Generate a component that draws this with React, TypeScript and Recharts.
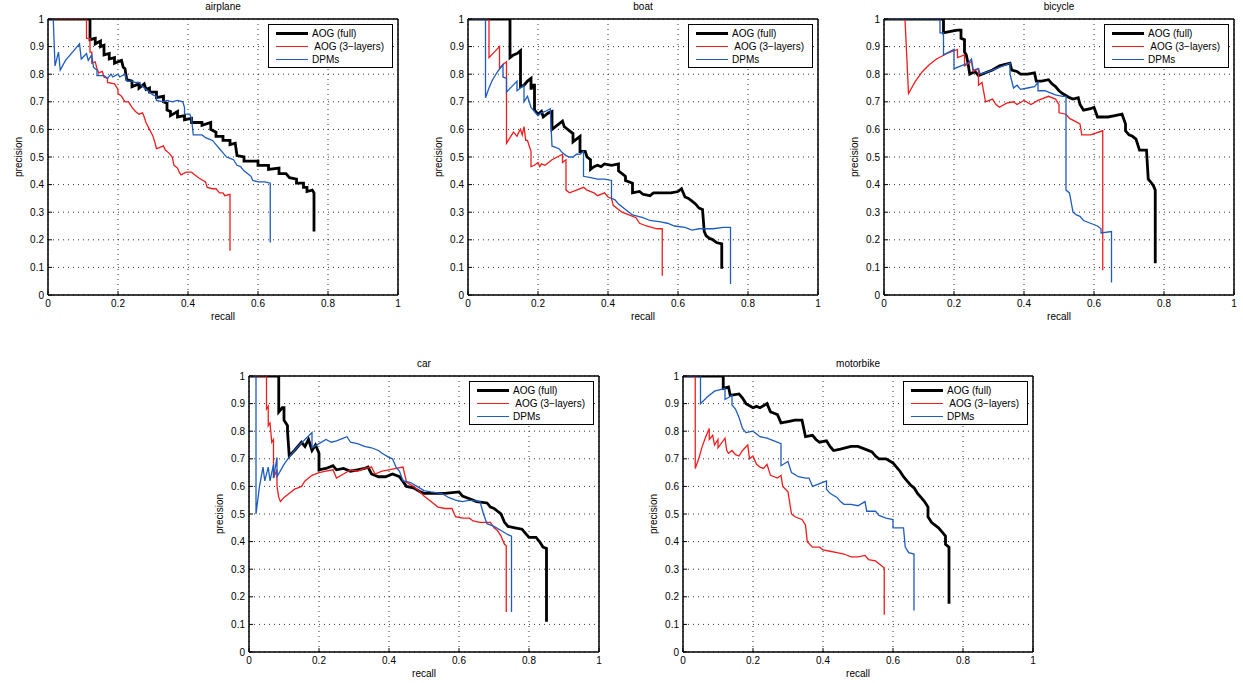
import { LineChart, Line, XAxis, YAxis, CartesianGrid, ReferenceArea } from "recharts";

// [recall, precision] pairs
const airplaneFull = [[0,1],[0.12,1],[0.12,0.925],[0.135,0.93],[0.135,0.91],[0.15,0.92],[0.15,0.9],[0.16,0.905],[0.16,0.87],[0.175,0.875],[0.175,0.855],[0.19,0.86],[0.19,0.84],[0.21,0.85],[0.215,0.825],[0.22,0.82],[0.225,0.78],[0.24,0.775],[0.24,0.755],[0.26,0.765],[0.26,0.75],[0.275,0.765],[0.28,0.745],[0.29,0.75],[0.29,0.735],[0.31,0.735],[0.31,0.715],[0.33,0.72],[0.33,0.7],[0.34,0.695],[0.34,0.67],[0.35,0.665],[0.35,0.65],[0.37,0.665],[0.37,0.645],[0.39,0.65],[0.39,0.635],[0.41,0.64],[0.41,0.625],[0.44,0.625],[0.44,0.615],[0.465,0.625],[0.465,0.6],[0.48,0.59],[0.48,0.575],[0.5,0.575],[0.5,0.56],[0.52,0.56],[0.52,0.545],[0.535,0.55],[0.54,0.505],[0.56,0.5],[0.56,0.485],[0.6,0.485],[0.6,0.47],[0.63,0.47],[0.63,0.455],[0.66,0.46],[0.66,0.44],[0.68,0.44],[0.69,0.425],[0.71,0.42],[0.71,0.405],[0.73,0.405],[0.73,0.39],[0.74,0.39],[0.74,0.375],[0.755,0.38],[0.76,0.37],[0.76,0.23]];
const airplane3 = [[0,1],[0.11,1],[0.11,0.93],[0.12,0.93],[0.12,0.88],[0.125,0.88],[0.125,0.84],[0.135,0.845],[0.14,0.82],[0.145,0.805],[0.155,0.81],[0.16,0.79],[0.17,0.785],[0.17,0.77],[0.19,0.765],[0.2,0.745],[0.2,0.73],[0.21,0.72],[0.22,0.7],[0.23,0.7],[0.24,0.68],[0.25,0.665],[0.26,0.655],[0.27,0.66],[0.275,0.645],[0.28,0.625],[0.29,0.6],[0.3,0.575],[0.305,0.555],[0.31,0.53],[0.32,0.535],[0.33,0.54],[0.335,0.525],[0.345,0.515],[0.355,0.5],[0.36,0.47],[0.37,0.46],[0.375,0.445],[0.38,0.435],[0.395,0.445],[0.41,0.445],[0.42,0.435],[0.43,0.425],[0.45,0.41],[0.455,0.39],[0.47,0.385],[0.48,0.385],[0.49,0.37],[0.5,0.37],[0.505,0.36],[0.52,0.365],[0.52,0.16]];
const airplaneDpm = [[0,1],[0.015,1],[0.02,0.83],[0.03,0.88],[0.035,0.815],[0.05,0.85],[0.07,0.88],[0.09,0.91],[0.095,0.855],[0.11,0.875],[0.115,0.85],[0.125,0.87],[0.13,0.825],[0.14,0.815],[0.14,0.795],[0.16,0.795],[0.17,0.785],[0.18,0.8],[0.185,0.79],[0.2,0.8],[0.205,0.79],[0.22,0.8],[0.225,0.775],[0.24,0.775],[0.25,0.77],[0.26,0.77],[0.27,0.755],[0.28,0.745],[0.29,0.735],[0.3,0.725],[0.31,0.72],[0.31,0.705],[0.33,0.7],[0.34,0.705],[0.355,0.7],[0.37,0.705],[0.385,0.7],[0.39,0.68],[0.39,0.655],[0.405,0.655],[0.41,0.64],[0.415,0.58],[0.44,0.58],[0.45,0.57],[0.46,0.565],[0.47,0.56],[0.48,0.545],[0.49,0.53],[0.5,0.515],[0.51,0.5],[0.52,0.495],[0.53,0.49],[0.54,0.47],[0.55,0.465],[0.56,0.45],[0.57,0.44],[0.58,0.43],[0.585,0.415],[0.6,0.41],[0.62,0.41],[0.635,0.405],[0.635,0.19]];

const boatFull = [[0,1],[0.12,1],[0.12,0.86],[0.13,0.87],[0.14,0.875],[0.15,0.885],[0.15,0.755],[0.16,0.76],[0.17,0.775],[0.18,0.785],[0.18,0.745],[0.185,0.76],[0.19,0.76],[0.19,0.67],[0.2,0.655],[0.21,0.665],[0.215,0.645],[0.225,0.655],[0.23,0.66],[0.24,0.665],[0.24,0.6],[0.25,0.61],[0.26,0.62],[0.27,0.63],[0.275,0.61],[0.28,0.605],[0.29,0.595],[0.3,0.585],[0.3,0.555],[0.31,0.565],[0.32,0.575],[0.32,0.52],[0.335,0.52],[0.34,0.5],[0.35,0.49],[0.35,0.455],[0.36,0.465],[0.37,0.47],[0.38,0.465],[0.39,0.475],[0.41,0.47],[0.43,0.475],[0.43,0.45],[0.44,0.44],[0.45,0.43],[0.45,0.415],[0.47,0.405],[0.47,0.37],[0.49,0.375],[0.5,0.365],[0.52,0.36],[0.53,0.37],[0.55,0.37],[0.58,0.37],[0.6,0.375],[0.61,0.385],[0.62,0.355],[0.63,0.35],[0.64,0.34],[0.65,0.33],[0.66,0.315],[0.67,0.31],[0.675,0.23],[0.68,0.215],[0.69,0.205],[0.7,0.2],[0.71,0.19],[0.725,0.185],[0.725,0.095]];
const boat3 = [[0,1],[0.06,1],[0.06,0.86],[0.075,0.88],[0.09,0.9],[0.09,0.82],[0.1,0.835],[0.11,0.845],[0.11,0.55],[0.12,0.57],[0.13,0.59],[0.14,0.575],[0.145,0.59],[0.15,0.6],[0.155,0.58],[0.16,0.61],[0.165,0.56],[0.17,0.56],[0.175,0.54],[0.18,0.52],[0.18,0.465],[0.19,0.47],[0.2,0.48],[0.205,0.465],[0.21,0.475],[0.22,0.47],[0.24,0.49],[0.27,0.51],[0.27,0.48],[0.28,0.49],[0.28,0.38],[0.29,0.37],[0.31,0.38],[0.33,0.39],[0.34,0.38],[0.36,0.37],[0.37,0.36],[0.39,0.37],[0.4,0.355],[0.41,0.35],[0.415,0.325],[0.43,0.31],[0.44,0.3],[0.46,0.29],[0.48,0.28],[0.49,0.26],[0.51,0.25],[0.54,0.24],[0.555,0.24],[0.555,0.07]];
const boatDpm = [[0,1],[0.05,1],[0.05,0.715],[0.06,0.75],[0.07,0.78],[0.085,0.81],[0.1,0.835],[0.1,0.79],[0.11,0.785],[0.11,0.735],[0.125,0.755],[0.14,0.775],[0.14,0.74],[0.15,0.75],[0.16,0.76],[0.16,0.7],[0.17,0.72],[0.175,0.7],[0.18,0.68],[0.19,0.665],[0.2,0.65],[0.21,0.66],[0.22,0.665],[0.235,0.675],[0.24,0.54],[0.25,0.535],[0.26,0.53],[0.27,0.515],[0.28,0.505],[0.29,0.5],[0.3,0.5],[0.31,0.51],[0.32,0.51],[0.33,0.52],[0.33,0.43],[0.35,0.425],[0.37,0.42],[0.39,0.42],[0.41,0.415],[0.41,0.35],[0.42,0.345],[0.43,0.33],[0.45,0.31],[0.47,0.29],[0.5,0.28],[0.52,0.27],[0.55,0.265],[0.57,0.26],[0.59,0.25],[0.62,0.245],[0.64,0.235],[0.66,0.24],[0.7,0.24],[0.73,0.245],[0.75,0.245],[0.75,0.04]];

const bicycleFull = [[0,1],[0.17,1],[0.17,0.95],[0.19,0.955],[0.21,0.96],[0.22,0.96],[0.22,0.93],[0.23,0.925],[0.23,0.88],[0.235,0.87],[0.24,0.84],[0.245,0.8],[0.26,0.81],[0.27,0.795],[0.29,0.805],[0.31,0.815],[0.33,0.83],[0.36,0.84],[0.365,0.815],[0.38,0.81],[0.39,0.8],[0.41,0.8],[0.43,0.805],[0.435,0.775],[0.45,0.775],[0.47,0.78],[0.48,0.765],[0.49,0.755],[0.5,0.74],[0.51,0.73],[0.53,0.715],[0.54,0.71],[0.555,0.715],[0.56,0.69],[0.57,0.67],[0.59,0.675],[0.6,0.68],[0.61,0.645],[0.64,0.645],[0.66,0.65],[0.68,0.655],[0.69,0.62],[0.69,0.595],[0.7,0.58],[0.71,0.575],[0.72,0.565],[0.73,0.525],[0.75,0.525],[0.755,0.42],[0.765,0.405],[0.77,0.395],[0.775,0.38],[0.775,0.115]];
const bicycle3 = [[0,1],[0.06,1],[0.07,0.73],[0.09,0.775],[0.11,0.81],[0.13,0.835],[0.15,0.855],[0.18,0.875],[0.21,0.89],[0.21,0.86],[0.23,0.87],[0.23,0.83],[0.25,0.845],[0.255,0.81],[0.27,0.82],[0.27,0.76],[0.28,0.77],[0.29,0.7],[0.31,0.71],[0.32,0.69],[0.33,0.68],[0.35,0.695],[0.37,0.7],[0.38,0.69],[0.4,0.705],[0.42,0.69],[0.44,0.705],[0.47,0.72],[0.49,0.71],[0.5,0.69],[0.5,0.66],[0.52,0.655],[0.53,0.64],[0.545,0.63],[0.56,0.62],[0.565,0.58],[0.59,0.58],[0.625,0.595],[0.625,0.57],[0.625,0.09]];
const bicycleDpm = [[0,1],[0.16,1],[0.16,0.95],[0.17,0.95],[0.17,0.87],[0.185,0.88],[0.2,0.89],[0.2,0.82],[0.22,0.83],[0.24,0.84],[0.25,0.855],[0.255,0.815],[0.27,0.82],[0.275,0.8],[0.3,0.81],[0.33,0.825],[0.36,0.84],[0.36,0.8],[0.37,0.75],[0.38,0.76],[0.39,0.745],[0.41,0.75],[0.43,0.755],[0.44,0.77],[0.44,0.74],[0.46,0.74],[0.47,0.735],[0.49,0.725],[0.51,0.72],[0.52,0.72],[0.52,0.38],[0.53,0.37],[0.54,0.3],[0.55,0.29],[0.56,0.285],[0.57,0.27],[0.59,0.26],[0.61,0.25],[0.62,0.24],[0.62,0.225],[0.65,0.23],[0.65,0.045]];

const carFull = [[0,1],[0.085,1],[0.085,0.87],[0.095,0.885],[0.1,0.885],[0.1,0.84],[0.11,0.82],[0.11,0.8],[0.115,0.71],[0.13,0.73],[0.15,0.76],[0.16,0.745],[0.17,0.77],[0.18,0.73],[0.19,0.75],[0.2,0.72],[0.2,0.66],[0.22,0.665],[0.24,0.675],[0.25,0.66],[0.27,0.665],[0.29,0.655],[0.31,0.66],[0.33,0.665],[0.34,0.67],[0.35,0.645],[0.37,0.635],[0.39,0.635],[0.41,0.645],[0.43,0.635],[0.45,0.6],[0.47,0.595],[0.49,0.58],[0.5,0.575],[0.53,0.575],[0.56,0.575],[0.6,0.58],[0.61,0.565],[0.63,0.555],[0.65,0.545],[0.68,0.54],[0.69,0.525],[0.7,0.52],[0.72,0.5],[0.73,0.47],[0.74,0.455],[0.76,0.45],[0.78,0.445],[0.79,0.43],[0.8,0.415],[0.82,0.415],[0.83,0.4],[0.84,0.38],[0.85,0.375],[0.85,0.11]];
const car3 = [[0,1],[0.05,1],[0.05,0.88],[0.055,0.89],[0.055,0.82],[0.06,0.83],[0.065,0.76],[0.07,0.77],[0.07,0.63],[0.08,0.66],[0.08,0.6],[0.085,0.56],[0.09,0.545],[0.1,0.56],[0.11,0.57],[0.12,0.58],[0.13,0.59],[0.14,0.595],[0.15,0.6],[0.16,0.62],[0.18,0.64],[0.2,0.65],[0.22,0.655],[0.24,0.66],[0.25,0.63],[0.27,0.645],[0.29,0.66],[0.31,0.655],[0.33,0.665],[0.35,0.67],[0.36,0.645],[0.38,0.655],[0.4,0.66],[0.42,0.665],[0.44,0.67],[0.45,0.615],[0.47,0.6],[0.48,0.59],[0.5,0.565],[0.52,0.545],[0.54,0.525],[0.56,0.52],[0.58,0.52],[0.59,0.49],[0.61,0.485],[0.63,0.485],[0.64,0.475],[0.66,0.47],[0.69,0.47],[0.7,0.45],[0.71,0.44],[0.72,0.42],[0.73,0.39],[0.735,0.385],[0.735,0.145]];
const carDpm = [[0,1],[0.02,1],[0.02,0.5],[0.03,0.6],[0.04,0.67],[0.045,0.62],[0.055,0.67],[0.06,0.62],[0.07,0.68],[0.07,0.63],[0.08,0.705],[0.08,0.635],[0.1,0.68],[0.12,0.715],[0.14,0.745],[0.16,0.77],[0.18,0.795],[0.18,0.74],[0.2,0.755],[0.22,0.77],[0.235,0.76],[0.25,0.765],[0.27,0.775],[0.28,0.78],[0.29,0.76],[0.31,0.755],[0.33,0.745],[0.35,0.74],[0.37,0.73],[0.38,0.72],[0.4,0.705],[0.41,0.7],[0.42,0.67],[0.43,0.655],[0.44,0.62],[0.46,0.615],[0.48,0.6],[0.5,0.585],[0.52,0.58],[0.55,0.575],[0.57,0.56],[0.59,0.55],[0.61,0.545],[0.63,0.55],[0.66,0.545],[0.67,0.5],[0.68,0.465],[0.7,0.455],[0.72,0.44],[0.74,0.425],[0.75,0.42],[0.75,0.145]];

const motorbikeFull = [[0,1],[0.115,1],[0.115,0.955],[0.13,0.96],[0.135,0.93],[0.16,0.935],[0.17,0.92],[0.18,0.9],[0.2,0.885],[0.21,0.89],[0.22,0.885],[0.24,0.9],[0.25,0.87],[0.26,0.865],[0.27,0.86],[0.28,0.83],[0.3,0.835],[0.32,0.84],[0.34,0.84],[0.35,0.78],[0.37,0.785],[0.38,0.77],[0.39,0.76],[0.41,0.765],[0.42,0.745],[0.43,0.73],[0.45,0.735],[0.48,0.745],[0.5,0.745],[0.52,0.735],[0.54,0.725],[0.55,0.71],[0.56,0.7],[0.58,0.7],[0.6,0.685],[0.61,0.67],[0.62,0.655],[0.63,0.635],[0.64,0.62],[0.65,0.605],[0.66,0.595],[0.67,0.575],[0.68,0.56],[0.69,0.545],[0.7,0.525],[0.7,0.49],[0.71,0.47],[0.72,0.46],[0.73,0.45],[0.74,0.435],[0.75,0.42],[0.75,0.39],[0.76,0.38],[0.76,0.175]];
const motorbike3 = [[0,1],[0.035,1],[0.035,0.665],[0.045,0.7],[0.055,0.745],[0.065,0.78],[0.075,0.81],[0.075,0.77],[0.085,0.785],[0.09,0.75],[0.1,0.77],[0.1,0.74],[0.12,0.775],[0.125,0.73],[0.13,0.72],[0.14,0.73],[0.15,0.715],[0.16,0.71],[0.17,0.73],[0.185,0.75],[0.19,0.7],[0.2,0.71],[0.21,0.68],[0.22,0.67],[0.23,0.665],[0.24,0.68],[0.25,0.64],[0.27,0.63],[0.28,0.64],[0.285,0.6],[0.3,0.58],[0.31,0.5],[0.32,0.49],[0.34,0.48],[0.35,0.46],[0.355,0.4],[0.37,0.38],[0.39,0.38],[0.4,0.37],[0.42,0.365],[0.44,0.36],[0.46,0.355],[0.48,0.345],[0.5,0.345],[0.52,0.35],[0.53,0.335],[0.55,0.33],[0.56,0.32],[0.57,0.31],[0.575,0.305],[0.575,0.135]];
const motorbikeDpm = [[0,1],[0.05,1],[0.05,0.9],[0.07,0.925],[0.09,0.945],[0.12,0.955],[0.12,0.915],[0.14,0.93],[0.14,0.895],[0.15,0.88],[0.16,0.85],[0.17,0.81],[0.18,0.795],[0.2,0.8],[0.22,0.78],[0.24,0.775],[0.26,0.765],[0.28,0.755],[0.28,0.675],[0.3,0.69],[0.31,0.65],[0.33,0.635],[0.35,0.63],[0.36,0.63],[0.37,0.6],[0.39,0.61],[0.41,0.62],[0.41,0.59],[0.42,0.575],[0.44,0.56],[0.45,0.545],[0.46,0.535],[0.48,0.535],[0.5,0.53],[0.52,0.545],[0.525,0.51],[0.55,0.51],[0.56,0.495],[0.58,0.485],[0.6,0.48],[0.6,0.45],[0.63,0.45],[0.635,0.38],[0.645,0.36],[0.66,0.355],[0.66,0.15]];

const seriesNames = ["AOG (full)", " AOG (3\u2212layers)", "DPMs"];
const seriesColors = ["#000000", "#f21c1c", "#1f5cbf"];
const seriesWidths = [2.8, 1.3, 1.3];
const xTicks = [0, 0.2, 0.4, 0.6, 0.8, 1];
const yTicks = [0, 0.1, 0.2, 0.3, 0.4, 0.5, 0.6, 0.7, 0.8, 0.9, 1];

const FONT = '"Liberation Sans", Arial, Helvetica, sans-serif';
const tickStyle = { fontSize: 10, fill: "#000", fontFamily: FONT };

type Pair = number[];

function toPoints(pairs: Pair[]) {
  return pairs.map(([r, p]) => ({ r, p }));
}

interface PanelProps {
  title: string;
  left: number;
  top: number;
  curves: Pair[][];
}

function Panel({ title, left, top, curves }: PanelProps) {
  const textBase = {
    position: "absolute" as const,
    fontFamily: FONT,
    fontSize: 10,
    lineHeight: "12px",
    color: "#000",
    textAlign: "center" as const,
  };
  return (
    <div style={{ position: "absolute", left, top, width: 420, height: 330 }}>
      <LineChart width={420} height={330} margin={{ top: 18, right: 21, bottom: 15, left: 18 }}>
        <CartesianGrid stroke="#333" strokeDasharray="1 4" strokeWidth={1} />
        <XAxis
          dataKey="r"
          type="number"
          domain={[0, 1]}
          ticks={xTicks}
          height={20}
          tick={tickStyle}
          tickSize={-4}
          tickMargin={9}
          stroke="#000"
          tickFormatter={(v) => String(v)}
          allowDataOverflow
        />
        {/* matlab-style box: inward ticks on the top and right edges too */}
        <XAxis
          xAxisId="top"
          orientation="top"
          type="number"
          domain={[0, 1]}
          ticks={xTicks}
          height={1}
          tick={false}
          tickSize={-4}
          stroke="#000"
        />
        <YAxis
          type="number"
          domain={[0, 1]}
          ticks={yTicks}
          width={30}
          tick={tickStyle}
          tickSize={-4}
          tickMargin={8}
          stroke="#000"
          tickFormatter={(v) => String(v)}
          allowDataOverflow
        />
        <YAxis
          yAxisId="right"
          orientation="right"
          type="number"
          domain={[0, 1]}
          ticks={yTicks}
          width={1}
          tick={false}
          tickSize={-4}
          stroke="#000"
        />
        <ReferenceArea x1={0} x2={1} y1={0} y2={1} fill="none" stroke="#000" strokeWidth={1} ifOverflow="visible" />
        {curves.map((c, i) => (
          <Line
            key={i}
            data={toPoints(c)}
            dataKey="p"
            type="linear"
            stroke={seriesColors[i]}
            strokeWidth={seriesWidths[i]}
            dot={false}
            activeDot={false}
            isAnimationActive={false}
            strokeLinejoin="miter"
          />
        ))}
      </LineChart>

      <div style={{ ...textBase, left: 48, top: 1, width: 350 }}>{title}</div>
      <div style={{ ...textBase, left: 48, top: 311, width: 350 }}>recall</div>
      <div
        style={{
          ...textBase,
          left: -31,
          top: 151,
          width: 100,
          transform: "rotate(-90deg)",
        }}
      >
        precision
      </div>

      {/* legend box, top-right inside the axes */}
      <div
        style={{
          position: "absolute",
          left: 268,
          top: 24,
          width: 125,
          height: 44,
          boxSizing: "border-box",
          border: "1px solid #000",
          background: "#fff",
          paddingTop: 2,
          fontFamily: FONT,
          fontSize: 10,
        }}
      >
        {seriesNames.map((name, i) => (
          <div key={i} style={{ display: "flex", alignItems: "center", height: 13 }}>
            <div
              style={{
                marginLeft: 7,
                width: 32,
                height: 0,
                borderTop: `${seriesWidths[i] > 2 ? 3 : 1}px solid ${seriesColors[i]}`,
              }}
            />
            <span style={{ marginLeft: 4, whiteSpace: "pre", lineHeight: "13px" }}>{name}</span>
          </div>
        ))}
      </div>
    </div>
  );
}

export default function App() {
  return (
    <div
      style={{
        position: "absolute",
        left: 0,
        top: 0,
        width: 1243,
        height: 683,
        overflow: "hidden",
        background: "#fff",
      }}
    >
      <Panel title="airplane" left={0} top={0} curves={[airplaneFull, airplane3, airplaneDpm]} />
      <Panel title="boat" left={420} top={0} curves={[boatFull, boat3, boatDpm]} />
      <Panel title="bicycle" left={836} top={0} curves={[bicycleFull, bicycle3, bicycleDpm]} />
      <Panel title="car" left={201} top={357} curves={[carFull, car3, carDpm]} />
      <Panel title="motorbike" left={635} top={357} curves={[motorbikeFull, motorbike3, motorbikeDpm]} />
    </div>
  );
}
